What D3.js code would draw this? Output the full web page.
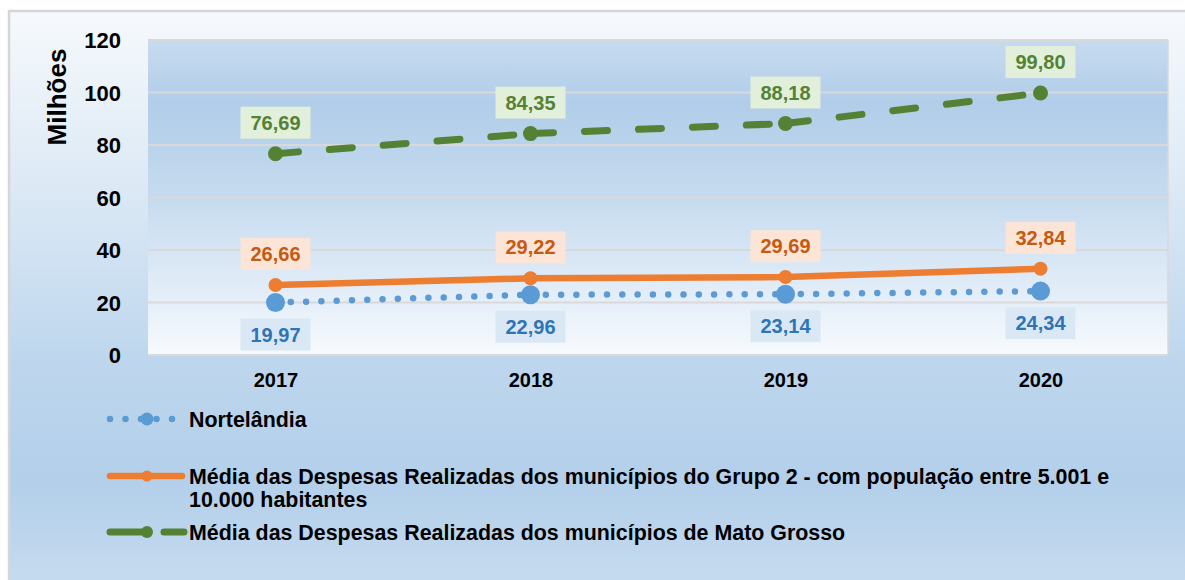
<!DOCTYPE html>
<html>
<head>
<meta charset="utf-8">
<script src="https://cdn.jsdelivr.net/npm/d3@7"></script>
<style>
  html, body { margin: 0; padding: 0; background: #ffffff; }
  svg { display: block; font-family: "Liberation Sans", Arial, sans-serif; }
</style>
</head>
<body>
<svg id="chart" width="1185" height="580"></svg>
<script>
// ---- data ----
const categories = ["2017", "2018", "2019", "2020"];
const seriesNames = [
  "Nortelândia",
  "Média das Despesas Realizadas dos municípios do Grupo 2 - com população entre 5.001 e 10.000 habitantes",
  "Média das Despesas Realizadas dos municípios de Mato Grosso"
];
const norteValues = [19.97, 22.96, 23.14, 24.34];
const grupo2Values = [26.66, 29.22, 29.69, 32.84];
const mtValues = [76.69, 84.35, 88.18, 99.80];
const yTicks = [0, 20, 40, 60, 80, 100, 120];
const yTitle = "Milhões";

const svg = d3.select("#chart");
const defs = svg.append("defs");

// gradients
const og = defs.append("linearGradient").attr("id", "outerGrad").attr("x1", 0).attr("y1", 0).attr("x2", 0).attr("y2", 1);
[["0%", "#f6f9fc"], ["30%", "#dce9f5"], ["60%", "#bdd6ed"], ["80%", "#b3cfea"], ["100%", "#c9ddf0"]]
  .forEach(([o, c]) => og.append("stop").attr("offset", o).attr("stop-color", c));
const pg = defs.append("linearGradient").attr("id", "plotGrad").attr("x1", 0).attr("y1", 0).attr("x2", 0).attr("y2", 1);
[["0%", "#c7dbef"], ["20%", "#b1cde9"], ["50%", "#c6dbef"], ["80%", "#e2edf8"], ["100%", "#f7fafd"]]
  .forEach(([o, c]) => pg.append("stop").attr("offset", o).attr("stop-color", c));

// outer frame
svg.append("rect").attr("x", 9).attr("y", 11).attr("width", 1190).attr("height", 590)
  .attr("fill", "url(#outerGrad)").attr("stroke", "#d6d6d6").attr("stroke-width", 2.5);

const plot = { left: 148, right: 1168, top: 40, bottom: 355 };

const x = d3.scalePoint().domain(categories).range([plot.left, plot.right]).padding(0.5);
const y = d3.scaleLinear().domain([0, 120]).range([plot.bottom, plot.top]);

// plot area
svg.append("rect").attr("x", plot.left).attr("y", plot.top)
  .attr("width", plot.right - plot.left).attr("height", plot.bottom - plot.top)
  .attr("fill", "url(#plotGrad)");

// gridlines
svg.append("g").selectAll("line").data(yTicks).join("line")
  .attr("x1", plot.left).attr("x2", plot.right)
  .attr("y1", d => y(d)).attr("y2", d => y(d))
  .attr("stroke", "#d9d9d9").attr("stroke-width", 2);
svg.append("line").attr("x1", plot.right).attr("x2", plot.right).attr("y1", plot.top).attr("y2", plot.bottom)
  .attr("stroke", "#d9d9d9").attr("stroke-width", 1.5);

// y axis
const yAxis = d3.axisLeft(y).tickValues(yTicks).tickSize(0).tickPadding(0);
const yg = svg.append("g").attr("transform", `translate(121,0)`).call(yAxis);
yg.select(".domain").remove();
yg.selectAll("text").attr("font-size", 22).attr("font-weight", "bold").attr("fill", "#000")
  .attr("font-family", "Liberation Sans, Arial, sans-serif").attr("dy", "0.36em");

// x axis
const xAxis = d3.axisBottom(x).tickSize(0).tickPadding(0);
const xg = svg.append("g").attr("transform", `translate(0,${plot.bottom})`).call(xAxis);
xg.select(".domain").remove();
xg.selectAll("text").attr("font-size", 20).attr("font-weight", "bold").attr("fill", "#000")
  .attr("font-family", "Liberation Sans, Arial, sans-serif").attr("dy", "0").attr("y", 32);

// y title
svg.append("text").attr("transform", `translate(66,${(48 + 146) / 2}) rotate(-90)`)
  .attr("text-anchor", "middle").attr("font-size", 26).attr("font-weight", "bold").attr("fill", "#000")
  .text(yTitle);

const colors = { norte: "#5b9bd5", g2: "#ed7d31", mt: "#548235" };
const labelText = { norte: "#2e75b6", g2: "#c55a11", mt: "#548235" };
const labelBg = { norte: "#dae8f5", g2: "#fce4d6", mt: "#e2efda" };

const pts = vals => vals.map((v, i) => [x(categories[i]), y(v)]);
const line = d3.line();

// Nortelândia: dotted line
const norteG = svg.append("g");
d3.pairs(pts(norteValues)).forEach(([a, b]) => {
  norteG.append("path").attr("d", line([a, b])).attr("fill", "none")
    .attr("stroke", colors.norte).attr("stroke-width", 6.5).attr("stroke-linecap", "round")
    .attr("stroke-dasharray", "0 15.3");
});
norteG.selectAll("circle").data(norteValues).join("circle")
  .attr("cx", (d, i) => x(categories[i])).attr("cy", d => y(d)).attr("r", 9.5).attr("fill", colors.norte);

// Grupo 2: solid orange
const g2G = svg.append("g");
g2G.append("path").attr("d", line(pts(grupo2Values))).attr("fill", "none")
  .attr("stroke", colors.g2).attr("stroke-width", 6.5).attr("stroke-linecap", "round").attr("stroke-linejoin", "round");
g2G.selectAll("circle").data(grupo2Values).join("circle")
  .attr("cx", (d, i) => x(categories[i])).attr("cy", d => y(d)).attr("r", 7).attr("fill", colors.g2);

// Mato Grosso: dashed green
const mtG = svg.append("g");
d3.pairs(pts(mtValues)).forEach(([a, b]) => {
  mtG.append("path").attr("d", line([a, b])).attr("fill", "none")
    .attr("stroke", colors.mt).attr("stroke-width", 7).attr("stroke-linecap", "round")
    .attr("stroke-dasharray", "23 31");
});
mtG.selectAll("circle").data(mtValues).join("circle")
  .attr("cx", (d, i) => x(categories[i])).attr("cy", d => y(d)).attr("r", 7.5).attr("fill", colors.mt);

// data labels
const fmt = v => d3.format(".2f")(v).replace(".", ",");
function labels(vals, key, offset) {
  const g = svg.append("g");
  vals.forEach((v, i) => {
    const cx = x(categories[i]);
    const cy = y(v) + offset;
    g.append("rect").attr("x", cx - 35).attr("y", cy - 16).attr("width", 70).attr("height", 32)
      .attr("fill", labelBg[key]);
    g.append("text").attr("x", cx).attr("y", cy).attr("dy", "0.36em").attr("text-anchor", "middle")
      .attr("font-size", 20).attr("font-weight", "bold").attr("fill", labelText[key]).text(fmt(v));
  });
}
labels(norteValues, "norte", 32);
labels(grupo2Values, "g2", -31);
labels(mtValues, "mt", -31);

// legend
const leg = svg.append("g");
const lx0 = 110, lx1 = 182, lmid = 147, ltext = 189;
const lfs = 21.4;
// row 1 Nortelândia
const r1 = 419;
leg.append("line").attr("x1", lx0).attr("x2", 178).attr("y1", r1).attr("y2", r1)
  .attr("stroke", colors.norte).attr("stroke-width", 6.5).attr("stroke-linecap", "round").attr("stroke-dasharray", "0 15.5");
leg.append("circle").attr("cx", lmid).attr("cy", r1).attr("r", 6.5).attr("fill", colors.norte);
leg.append("text").attr("x", ltext).attr("y", r1).attr("dy", "0.36em").attr("font-size", lfs).attr("font-weight", "bold")
  .attr("fill", "#000").text(seriesNames[0]);
// row 2 Grupo 2
const r2 = 476;
leg.append("line").attr("x1", lx0).attr("x2", lx1).attr("y1", r2).attr("y2", r2)
  .attr("stroke", colors.g2).attr("stroke-width", 6.5).attr("stroke-linecap", "round");
leg.append("circle").attr("cx", lmid).attr("cy", r2).attr("r", 5.5).attr("fill", colors.g2);
const t2 = leg.append("text").attr("x", ltext).attr("y", r2).attr("dy", "0.36em").attr("font-size", lfs).attr("font-weight", "bold").attr("fill", "#000");
t2.append("tspan").attr("x", ltext).text("Média das Despesas Realizadas dos municípios do Grupo 2 - com população entre 5.001 e");
t2.append("tspan").attr("x", ltext).attr("dy", 23).text("10.000 habitantes");
// row 3 MT
const r3 = 532;
leg.append("line").attr("x1", lx0).attr("x2", lx1 + 2).attr("y1", r3).attr("y2", r3)
  .attr("stroke", colors.mt).attr("stroke-width", 7).attr("stroke-linecap", "round").attr("stroke-dasharray", "33 21");
leg.append("circle").attr("cx", lmid).attr("cy", r3).attr("r", 6).attr("fill", colors.mt);
leg.append("text").attr("x", ltext).attr("y", r3).attr("dy", "0.36em").attr("font-size", lfs).attr("font-weight", "bold")
  .attr("fill", "#000").text(seriesNames[2]);
</script>
</body>
</html>
